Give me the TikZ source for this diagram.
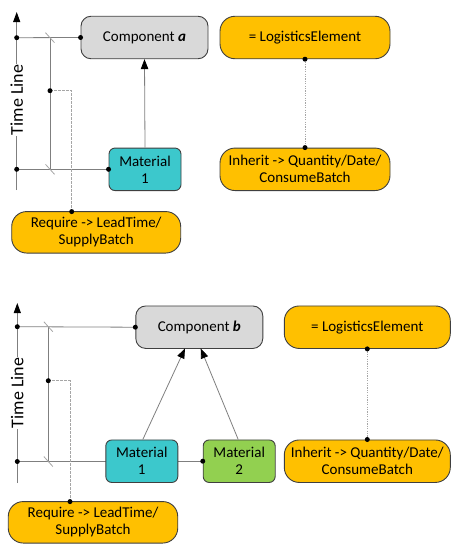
\documentclass[tikz,border=0pt]{standalone}
\usepackage{fontspec}
\setmainfont{Carlito}
\usetikzlibrary{arrows.meta,calc}
\definecolor{boxgrey}{HTML}{D9D9D9}
\definecolor{matcyan}{HTML}{3CC8CC}
\definecolor{matgreen}{HTML}{92D050}
\definecolor{logorange}{HTML}{FFC000}
\definecolor{edgegrey}{HTML}{3F3F3F}
\definecolor{wiregrey}{HTML}{7F7F7F}
\definecolor{dashgrey}{HTML}{A6A6A6}
\tikzset{
  x=1pt, y=-1pt,
  every node/.style={font=\fontsize{15}{17}\selectfont, align=center, inner sep=0pt},
  box/.style={draw=edgegrey, line width=0.9pt, minimum height=42.5pt},
  compbox/.style={box, fill=boxgrey, rounded corners=10pt, minimum width=127pt},
  matbox/.style={box, rounded corners=6pt, minimum width=72pt},
  logbox/.style={box, fill=logorange, rounded corners=15pt},
  wire/.style={draw=wiregrey, line width=0.8pt},
  tick/.style={draw=dashgrey, line width=0.8pt},
  dashwire/.style={draw=dashgrey, line width=0.8pt, dash pattern=on 2.5pt off 1.5pt},
  dotwire/.style={draw=dashgrey, line width=0.8pt, dash pattern=on 1.2pt off 1.2pt},
  flow/.style={wire, -{Triangle[length=10pt,width=7.5pt,color=black]}},
  axis/.style={wire, line width=1pt, -{Triangle[length=10pt,width=7pt,color=black]}},
  pin/.style={circle, fill=black, minimum size=5pt, inner sep=0pt},
  axislabel/.style={font=\fontsize{18}{20}\selectfont, rotate=90, fill=white, inner sep=1pt}
}
\begin{document}
\begin{tikzpicture}
\useasboundingbox (0,0) rectangle (451,544);

% ---------------- upper diagram: one material ----------------
\node[compbox] (compA) at (144.5,37.5) {Component \textbf{\textit{a}}};
\node[logbox, minimum width=170pt] (logA) at (305,37.5) {= LogisticsElement};
\node[matbox, fill=matcyan] (matA) at (145,169.3) {Material\\1};
\node[logbox, minimum width=170pt] (inhA) at (305,169.3) {Inherit -> Quantity/Date/\\ConsumeBatch};
\node[logbox, minimum width=169pt, minimum height=41.5pt] (reqA) at (96.2,232.3) {Require -> LeadTime/\\SupplyBatch};

\coordinate (tlAbot) at (16.7,190);
\coordinate (tlAtop) at (16.7,12);
\coordinate (tlAc) at (16.7,37.7);
\coordinate (tlAm) at (16.7,169.3);
\coordinate (brAtop) at (50,37.7);
\coordinate (brAbot) at (50,169.3);
\coordinate (brAmid) at (50,90.7);
\coordinate (reqAin) at (71.7,211.6);

\draw[axis] (tlAbot) -- (tlAtop);
\draw[wire] (tlAc) -- (compA.west);
\draw[wire] (tlAm) -- (matA.west);
\draw[wire] (brAtop) -- (brAbot);
\draw[tick] ($(brAtop)+(-4.5,-5)$) -- ($(brAtop)+(4.5,5)$);
\draw[tick] ($(brAbot)+(-4.5,-5)$) -- ($(brAbot)+(4.5,5)$);
\draw[dashwire] (brAmid) -| (reqAin);
\draw[flow] (matA.north) -- (compA.south);
\draw[dotwire] (logA.south) -- (inhA.north);
\node[axislabel] (tlAlabel) at (16.7,100) {Time Line};

\foreach \p in {tlAc, tlAm, compA.west, matA.west, brAmid, reqAin, logA.south, inhA.north}
  \node[pin] at (\p) {};

% ---------------- lower diagram: two materials ----------------
\node[compbox] (compB) at (199.3,327.2) {Component \textbf{\textit{b}}};
\node[logbox, minimum width=166pt] (logB) at (367.3,327.2) {= LogisticsElement};
\node[logbox, minimum width=166pt] (inhB) at (367.3,461.2) {Inherit -> Quantity/Date/\\ConsumeBatch};
\node[logbox, minimum width=169.5pt, minimum height=41.5pt] (reqB) at (93,522.3) {Require -> LeadTime/\\SupplyBatch};

\coordinate (tlBbot) at (17.3,483);
\coordinate (tlBtop) at (17.3,303);
\coordinate (tlBc) at (17.3,326.7);
\coordinate (tlBm) at (17.3,461.5);
\coordinate (brBtop) at (48.3,326.7);
\coordinate (brBbot) at (48.3,461.5);
\coordinate (brBmid) at (48.3,380.7);
\coordinate (reqBin) at (70,501.6);

\draw[axis] (tlBbot) -- (tlBtop);
\draw[wire] (tlBc) -- (compB.west);
\draw[wire] (tlBm) -- (203.3,461.5) coordinate (matBlink);
\draw[wire] (brBtop) -- (brBbot);
\draw[tick] ($(brBtop)+(-4.5,-5)$) -- ($(brBtop)+(4.5,5)$);
\draw[tick] ($(brBbot)+(-4.5,-5)$) -- ($(brBbot)+(4.5,5)$);
\draw[dashwire] (brBmid) -| (reqBin);
\node[axislabel] (tlBlabel) at (17.3,393) {Time Line};

\node[matbox, fill=matcyan] (mat1B) at (141.8,461.2) {Material\\1};
\node[matbox, fill=matgreen] (mat2B) at (239.2,461.2) {Material\\2};

\draw[flow] (mat1B.north) ++(1,0) coordinate (m1up) -- (185,348.4) coordinate (cbL);
\draw[flow] (mat2B.north) ++(-1,0) coordinate (m2up) -- (200.7,348.4) coordinate (cbR);
\draw[dotwire] (logB.south) -- (inhB.north);

\foreach \p in {tlBc, tlBm, compB.west, mat2B.west, brBmid, reqBin, logB.south, inhB.north}
  \node[pin] at (\p) {};
\end{tikzpicture}
\end{document}
